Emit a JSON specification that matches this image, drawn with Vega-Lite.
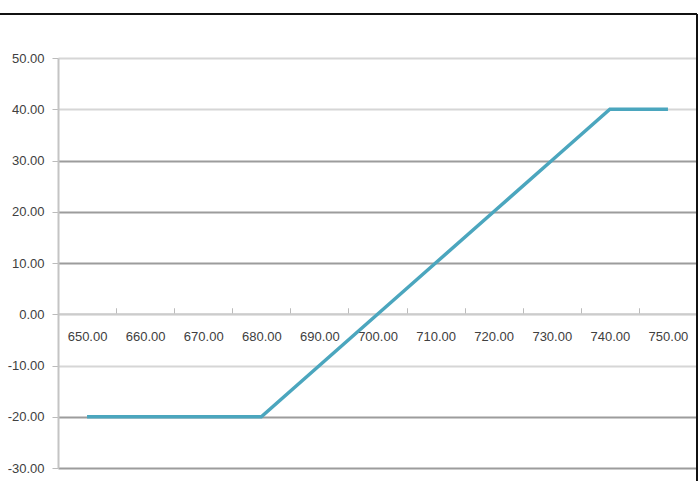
{
  "$schema": "https://vega.github.io/schema/vega-lite/v6.json",
  "autosize": {"type": "none"},
  "padding": {"left": 58, "top": 58, "right": 1, "bottom": 13},
  "width": 639,
  "height": 410,
  "background": "white",
  "config": {
    "font": "Liberation Sans",
    "view": {"stroke": null},
    "axis": {"labelFontSize": 13, "labelColor": "#404040", "title": null}
  },
  "layer": [
    {
      "data": {
        "values": [
          {"price": 650, "payoff": -20},
          {"price": 660, "payoff": -20},
          {"price": 670, "payoff": -20},
          {"price": 680, "payoff": -20},
          {"price": 690, "payoff": -10},
          {"price": 700, "payoff": 0},
          {"price": 710, "payoff": 10},
          {"price": 720, "payoff": 20},
          {"price": 730, "payoff": 30},
          {"price": 740, "payoff": 40},
          {"price": 750, "payoff": 40}
        ]
      },
      "mark": {"type": "line", "color": "#4BA6BE", "strokeWidth": 3.5},
      "encoding": {
        "x": {
          "field": "price", "type": "quantitative",
          "scale": {"domain": [645, 755], "nice": false, "zero": false},
          "axis": {
            "orient": "bottom",
            "offset": -154.25,
            "values": [650, 660, 670, 680, 690, 700, 710, 720, 730, 740, 750],
            "format": ".2f",
            "grid": false,
            "domainColor": "#cccccc",
            "domainWidth": 2,
            "tickColor": "#bbbbbb",
            "tickSize": -6,
            "tickOffset": 29,
            "labelOffset": -29,
            "labelPadding": 23
          }
        },
        "y": {
          "field": "payoff", "type": "quantitative",
          "scale": {"domain": [-30, 50], "nice": false, "zero": false},
          "axis": {
            "values": [-30, -20, -10, 0, 10, 20, 30, 40, 50],
            "labelExpr": "(datum.value < 0 ? '-' : '') + format(abs(datum.value), '.2f')",
            "domainColor": "#c4c4c4",
            "domainWidth": 2,
            "tickColor": "#bbbbbb",
            "tickSize": 6,
            "labelPadding": 8,
            "grid": true,
            "gridWidth": 2,
            "gridColor": {
              "condition": {"test": "datum.value == 50 || datum.value == 40 || datum.value == 0 || datum.value == -10", "value": "#d6d6d6"},
              "value": "#9c9c9c"
            }
          }
        }
      }
    },
    {
      "data": {"values": [{"x1": 635, "x2": 755, "y1": 58.6, "y2": 58.6}, {"x1": 755, "x2": 755, "y1": 58.6, "y2": -32.6}]},
      "mark": {"type": "rule", "color": "#111111", "strokeWidth": 2},
      "encoding": {
        "x": {"field": "x1", "type": "quantitative"},
        "x2": {"field": "x2"},
        "y": {"field": "y1", "type": "quantitative"},
        "y2": {"field": "y2"}
      }
    }
  ]
}
